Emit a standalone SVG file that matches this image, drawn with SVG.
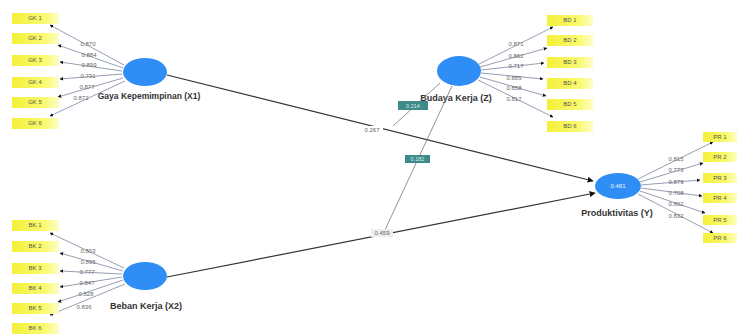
<svg xmlns="http://www.w3.org/2000/svg" width="740" height="334" viewBox="0 0 740 334">
<defs>
<marker id="ah" viewBox="0 0 10 10" refX="9" refY="5" markerWidth="4" markerHeight="4" orient="auto"><path d="M0,0 L10,5 L0,10 z" fill="#111"/></marker>
<marker id="ahb" viewBox="0 0 10 10" refX="9" refY="5" markerWidth="5" markerHeight="5" orient="auto"><path d="M0,0 L10,5 L0,10 z" fill="#111"/></marker>
<linearGradient id="yel" x1="0" x2="1" y1="0" y2="0"><stop offset="0" stop-color="#f4f03a"/><stop offset="0.7" stop-color="#fafa70"/><stop offset="1" stop-color="#fdfdc8"/></linearGradient>
</defs>
<style>
.ind{fill:url(#yel)}
.indt{font-family:"Liberation Sans",Arial,sans-serif;font-size:6px;fill:#555;text-anchor:middle}
.lv{fill:#2f8ef5}
.lvt{font-family:"Liberation Sans",Arial,sans-serif;font-size:9px;font-weight:bold;fill:#333;text-anchor:middle}
.lvin{font-family:"Liberation Sans",Arial,sans-serif;font-size:6px;fill:#e8f2ff;text-anchor:middle}
.ld{stroke:#8a93a8;stroke-width:0.9;fill:none;marker-end:url(#ah)}
.ldt{font-family:"Liberation Sans",Arial,sans-serif;font-size:6px;fill:#666;text-anchor:middle}
.path{stroke:#333;stroke-width:1.2;fill:none;marker-end:url(#ahb)}
.mod{stroke:#777;stroke-width:0.8;fill:none}
.teal{fill:#3d8a88}
.tealt{font-family:"Liberation Sans",Arial,sans-serif;font-size:5.5px;fill:#d8eeee;text-anchor:middle}
</style>
<rect width="740" height="334" fill="#fff"/>
<g id="X1"><ellipse class="lv" cx="145" cy="72" rx="22" ry="14"/><text class="lvt" x="149" y="99" style="font-size:8.5px">Gaya Kepemimpinan (X1)</text></g>
<g id="X2"><ellipse class="lv" cx="145" cy="276" rx="22" ry="14"/><text class="lvt" x="146" y="309">Beban Kerja (X2)</text></g>
<g id="Z"><ellipse class="lv" cx="459" cy="71" rx="22" ry="15"/><text class="lvt" x="456" y="101">Budaya Kerja (Z)</text></g>
<g id="Y"><ellipse class="lv" cx="618" cy="186" rx="23" ry="13"/><text class="lvin" x="618" y="188">0.481</text><text class="lvt" x="617" y="216">Produktivitas (Y)</text></g>
<g id="connectors">
<path class="path" d="M167,75 L593,181"/>
<path class="path" d="M167,277 L595,193"/>
<path class="mod" d="M440,83 L393,126"/>
<path class="mod" d="M452,86 L384,232"/>
<path class="ld" d="M124,65 L50,25"/><path class="ld" d="M123,68 L58,45"/><path class="ld" d="M122,71 L60,62"/><path class="ld" d="M122,74 L60,79"/><path class="ld" d="M123,78 L58,97"/><path class="ld" d="M125,81 L50,116"/>
<path class="ld" d="M124,268 L50,233"/><path class="ld" d="M123,271 L60,253"/><path class="ld" d="M122,274 L60,271"/><path class="ld" d="M122,277 L60,287"/><path class="ld" d="M123,280 L58,302"/><path class="ld" d="M125,284 L50,315"/>
<path class="ld" d="M479,64 L553,27"/><path class="ld" d="M480,67 L547,48"/><path class="ld" d="M481,70 L544,63"/><path class="ld" d="M481,73 L543,79"/><path class="ld" d="M480,77 L546,96"/><path class="ld" d="M478,80 L553,117"/>
<path class="ld" d="M638,179 L713,142"/><path class="ld" d="M640,182 L703,163"/><path class="ld" d="M641,185 L700,180"/><path class="ld" d="M641,188 L702,196"/><path class="ld" d="M640,191 L705,213"/><path class="ld" d="M638,194 L713,233"/>
<rect x="362" y="126" width="21" height="8" fill="#fff"/><text class="ldt" x="372" y="132">0.267</text>
<rect x="371" y="229" width="22" height="8" fill="#eee"/><text class="ldt" x="382" y="235">0.459</text>
<text class="ldt" x="88" y="46">0.870</text><text class="ldt" x="89" y="57">0.884</text><text class="ldt" x="89" y="67">0.899</text><text class="ldt" x="88" y="78">0.731</text><text class="ldt" x="87" y="89">0.877</text><text class="ldt" x="81" y="100">0.872</text>
<text class="ldt" x="88" y="253">0.803</text><text class="ldt" x="88" y="264">0.895</text><text class="ldt" x="87" y="274">0.777</text><text class="ldt" x="87" y="285">0.847</text><text class="ldt" x="86" y="296">0.828</text><text class="ldt" x="84" y="309">0.836</text>
<text class="ldt" x="516" y="46">0.871</text><text class="ldt" x="516" y="58">0.862</text><text class="ldt" x="516" y="68">0.717</text><text class="ldt" x="514" y="80">0.885</text><text class="ldt" x="514" y="90">0.858</text><text class="ldt" x="514" y="101">0.817</text>
<text class="ldt" x="676" y="161">0.815</text><text class="ldt" x="676" y="172">0.773</text><text class="ldt" x="676" y="184">0.879</text><text class="ldt" x="676" y="195">0.708</text><text class="ldt" x="676" y="206">0.802</text><text class="ldt" x="676" y="218">0.832</text>
</g>
<g id="mod1"><rect class="teal" x="398" y="101" width="30" height="9"/><text class="tealt" x="413" y="108">0.214</text></g>
<g id="mod2"><rect class="teal" x="405" y="155" width="25" height="8"/><text class="tealt" x="417.5" y="161">0.182</text></g>
<g id="GK1"><rect class="ind" x="12" y="13" width="47" height="11"/><text class="indt" x="35" y="20">GK 1</text></g>
<g id="GK2"><rect class="ind" x="12" y="33" width="47" height="11"/><text class="indt" x="35" y="40">GK 2</text></g>
<g id="GK3"><rect class="ind" x="12" y="55" width="47" height="11"/><text class="indt" x="35" y="62">GK 3</text></g>
<g id="GK4"><rect class="ind" x="12" y="77" width="47" height="11"/><text class="indt" x="35" y="84">GK 4</text></g>
<g id="GK5"><rect class="ind" x="12" y="97" width="47" height="11"/><text class="indt" x="35" y="104">GK 5</text></g>
<g id="GK6"><rect class="ind" x="12" y="118" width="47" height="11"/><text class="indt" x="35" y="125">GK 6</text></g>
<g id="BK1"><rect class="ind" x="12" y="220" width="47" height="11"/><text class="indt" x="35" y="227">BK 1</text></g>
<g id="BK2"><rect class="ind" x="12" y="241" width="47" height="11"/><text class="indt" x="35" y="248">BK 2</text></g>
<g id="BK3"><rect class="ind" x="12" y="263" width="47" height="11"/><text class="indt" x="35" y="270">BK 3</text></g>
<g id="BK4"><rect class="ind" x="12" y="283" width="47" height="11"/><text class="indt" x="35" y="290">BK 4</text></g>
<g id="BK5"><rect class="ind" x="12" y="303" width="47" height="11"/><text class="indt" x="35" y="310">BK 5</text></g>
<g id="BK6"><rect class="ind" x="12" y="323" width="47" height="11"/><text class="indt" x="35" y="330">BK 6</text></g>
<g id="BD1"><rect class="ind" x="547" y="15" width="46" height="11"/><text class="indt" x="570" y="22">BD 1</text></g>
<g id="BD2"><rect class="ind" x="547" y="35" width="46" height="11"/><text class="indt" x="570" y="42">BD 2</text></g>
<g id="BD3"><rect class="ind" x="547" y="57" width="46" height="11"/><text class="indt" x="570" y="64">BD 3</text></g>
<g id="BD4"><rect class="ind" x="547" y="78" width="46" height="11"/><text class="indt" x="570" y="85">BD 4</text></g>
<g id="BD5"><rect class="ind" x="547" y="99" width="46" height="11"/><text class="indt" x="570" y="106">BD 5</text></g>
<g id="BD6"><rect class="ind" x="547" y="121" width="46" height="11"/><text class="indt" x="570" y="128">BD 6</text></g>
<g id="PR1"><rect class="ind" x="703" y="132" width="34" height="10"/><text class="indt" x="720" y="139">PR 1</text></g>
<g id="PR2"><rect class="ind" x="703" y="152" width="34" height="10"/><text class="indt" x="720" y="159">PR 2</text></g>
<g id="PR3"><rect class="ind" x="703" y="173" width="34" height="10"/><text class="indt" x="720" y="180">PR 3</text></g>
<g id="PR4"><rect class="ind" x="703" y="193" width="34" height="10"/><text class="indt" x="720" y="200">PR 4</text></g>
<g id="PR5"><rect class="ind" x="703" y="215" width="34" height="10"/><text class="indt" x="720" y="222">PR 5</text></g>
<g id="PR6"><rect class="ind" x="703" y="233" width="34" height="10"/><text class="indt" x="720" y="240">PR 6</text></g>
</svg>
